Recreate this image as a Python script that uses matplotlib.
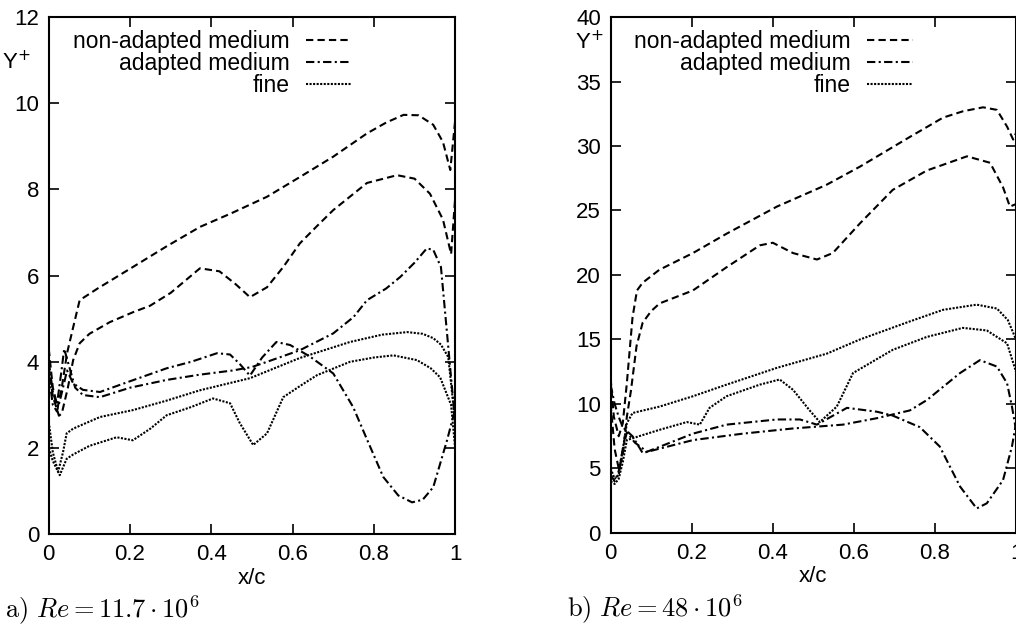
import matplotlib
matplotlib.use("Agg")
import matplotlib.pyplot as plt

plt.rcParams['font.family'] = ['Liberation Sans', 'DejaVu Sans']
plt.rcParams['mathtext.fontset'] = 'cm'

# ---- a) Re = 11.7e6 ----
a_nam1_x = [0, 0.01, 0.022, 0.032, 0.045, 0.06, 0.076, 0.12, 0.207, 0.29, 0.372, 0.45, 0.537, 0.62, 0.70, 0.783, 0.83, 0.873, 0.91, 0.946, 0.97, 0.988, 1.0]
a_nam1_y = [4.3, 3.4, 2.95, 3.4, 4.2, 4.8, 5.43, 5.7, 6.2, 6.68, 7.13, 7.45, 7.83, 8.3, 8.76, 9.3, 9.55, 9.73, 9.72, 9.5, 9.1, 8.45, 9.6]
a_nam2_x = [0, 0.01, 0.025, 0.032, 0.047, 0.06, 0.076, 0.1, 0.15, 0.207, 0.249, 0.30, 0.372, 0.42, 0.46, 0.495, 0.537, 0.577, 0.618, 0.66, 0.70, 0.783, 0.857, 0.90, 0.938, 0.97, 0.99, 1.0]
a_nam2_y = [3.9, 3.2, 2.75, 2.8, 3.4, 4.04, 4.43, 4.65, 4.92, 5.15, 5.3, 5.6, 6.17, 6.1, 5.8, 5.5, 5.73, 6.2, 6.75, 7.15, 7.52, 8.15, 8.33, 8.25, 7.9, 7.3, 6.5, 7.8]

a_am1_x = [0, 0.01, 0.02, 0.03, 0.038, 0.05, 0.065, 0.084, 0.126, 0.2, 0.29, 0.37, 0.453, 0.5, 0.537, 0.618, 0.70, 0.75, 0.783, 0.83, 0.865, 0.90, 0.93, 0.946, 0.965, 0.983, 1.0]
a_am1_y = [4.0, 3.3, 3.0, 3.7, 4.3, 3.9, 3.4, 3.23, 3.18, 3.4, 3.58, 3.7, 3.8, 3.88, 4.0, 4.27, 4.66, 5.04, 5.43, 5.7, 5.97, 6.3, 6.63, 6.6, 6.2, 4.35, 2.6]
a_am2_x = [0, 0.01, 0.02, 0.03, 0.045, 0.06, 0.084, 0.126, 0.2, 0.29, 0.35, 0.414, 0.446, 0.47, 0.495, 0.525, 0.56, 0.594, 0.643, 0.70, 0.749, 0.783, 0.823, 0.86, 0.894, 0.92, 0.946, 0.98, 1.0]
a_am2_y = [3.7, 3.0, 2.85, 3.2, 3.8, 3.5, 3.35, 3.3, 3.55, 3.85, 4.0, 4.2, 4.17, 3.95, 3.68, 4.1, 4.46, 4.39, 4.12, 3.73, 2.95, 2.2, 1.33, 0.9, 0.74, 0.8, 1.09, 2.18, 2.9]

a_fine1_x = [0, 0.01, 0.023, 0.035, 0.044, 0.06, 0.126, 0.207, 0.29, 0.372, 0.495, 0.618, 0.741, 0.82, 0.882, 0.92, 0.946, 0.965, 0.983, 1.0]
a_fine1_y = [2.6, 1.9, 1.45, 1.9, 2.34, 2.45, 2.72, 2.88, 3.1, 3.34, 3.62, 4.09, 4.46, 4.63, 4.69, 4.65, 4.55, 4.4, 4.11, 2.6]
a_fine2_x = [0, 0.01, 0.027, 0.044, 0.06, 0.1, 0.167, 0.207, 0.25, 0.29, 0.35, 0.404, 0.446, 0.47, 0.503, 0.537, 0.577, 0.62, 0.66, 0.741, 0.80, 0.848, 0.906, 0.94, 0.963, 0.99, 1.0]
a_fine2_y = [2.0, 1.7, 1.37, 1.75, 1.85, 2.05, 2.25, 2.18, 2.45, 2.76, 2.95, 3.15, 3.04, 2.58, 2.07, 2.34, 3.18, 3.45, 3.69, 4.0, 4.1, 4.15, 4.04, 3.85, 3.64, 3.0, 2.0]

# ---- b) Re = 48e6 ----
b_nam1_x = [0, 0.008, 0.02, 0.03, 0.04, 0.054, 0.065, 0.079, 0.12, 0.203, 0.286, 0.41, 0.533, 0.615, 0.738, 0.82, 0.87, 0.919, 0.953, 0.978, 0.993, 1.0]
b_nam1_y = [12.0, 9.0, 7.5, 8.5, 11.6, 16.7, 18.8, 19.4, 20.4, 21.7, 23.2, 25.3, 27.0, 28.4, 30.7, 32.2, 32.7, 33.0, 32.8, 31.5, 30.5, 31.0]
b_nam2_x = [0, 0.01, 0.02, 0.03, 0.04, 0.05, 0.064, 0.079, 0.1, 0.121, 0.203, 0.286, 0.368, 0.4, 0.45, 0.509, 0.548, 0.615, 0.696, 0.78, 0.879, 0.936, 0.968, 0.985, 1.0]
b_nam2_y = [10.0, 6.5, 5.0, 6.0, 9.0, 11.0, 14.5, 16.3, 17.2, 17.8, 18.8, 20.6, 22.3, 22.5, 21.7, 21.2, 21.7, 24.0, 26.6, 28.1, 29.2, 28.7, 26.8, 25.3, 25.5]

b_am1_x = [0, 0.01, 0.02, 0.03, 0.054, 0.079, 0.203, 0.326, 0.449, 0.573, 0.657, 0.738, 0.78, 0.862, 0.911, 0.953, 0.978, 0.99, 1.0]
b_am1_y = [11.5, 10.0, 9.0, 8.2, 7.5, 6.2, 7.2, 7.7, 8.1, 8.4, 8.9, 9.5, 10.3, 12.4, 13.4, 12.9, 11.6, 9.8, 8.0]
b_am2_x = [0, 0.01, 0.02, 0.03, 0.04, 0.06, 0.09, 0.203, 0.286, 0.41, 0.467, 0.509, 0.583, 0.657, 0.696, 0.763, 0.812, 0.862, 0.903, 0.928, 0.968, 0.99, 1.0]
b_am2_y = [4.5, 4.0, 4.8, 6.5, 7.8, 7.0, 6.3, 7.7, 8.4, 8.8, 8.8, 8.4, 9.7, 9.4, 9.1, 8.2, 6.7, 3.6, 1.9, 2.3, 4.1, 6.7, 8.5]

b_fine1_x = [0, 0.01, 0.02, 0.03, 0.04, 0.054, 0.121, 0.203, 0.286, 0.41, 0.533, 0.615, 0.738, 0.82, 0.903, 0.953, 0.98, 1.0]
b_fine1_y = [5.0, 4.2, 4.5, 6.5, 8.5, 9.3, 9.8, 10.6, 11.5, 12.8, 13.9, 15.0, 16.4, 17.3, 17.7, 17.4, 16.5, 15.0]
b_fine2_x = [0, 0.01, 0.02, 0.03, 0.04, 0.08, 0.121, 0.188, 0.22, 0.244, 0.286, 0.368, 0.417, 0.45, 0.491, 0.516, 0.558, 0.598, 0.696, 0.78, 0.869, 0.928, 0.978, 1.0]
b_fine2_y = [4.0, 3.8, 4.2, 5.5, 7.2, 7.6, 8.0, 8.6, 8.4, 9.7, 10.6, 11.5, 11.9, 11.1, 9.5, 8.6, 9.8, 12.4, 14.2, 15.2, 15.9, 15.7, 14.7, 12.5]

labels = ['non-adapted medium', 'adapted medium', 'fine']
styles = [(0, (3.5, 2)), (0, (4, 1.6, 1, 1.6)), (0, (1, 0.7))]

xticks = [0, 0.2, 0.4, 0.6, 0.8, 1]
xticklabels = ['0', '0.2', '0.4', '0.6', '0.8', '1']
a_yticks = [0, 2, 4, 6, 8, 10, 12]
b_yticks = [0, 5, 10, 15, 20, 25, 30, 35, 40]

FS = 16


def draw(ax, curves, yticks, caption, yplus_pos):
    for i, (x1, y1, x2, y2) in enumerate(curves):
        ax.plot(x1, y1, color='black', lw=1.5, linestyle=styles[i], label=labels[i])
        ax.plot(x2, y2, color='black', lw=1.5, linestyle=styles[i])
    ax.set_xlim(0, 1)
    ax.set_ylim(yticks[0], yticks[-1])
    ax.set_xticks(xticks)
    ax.set_xticklabels(xticklabels)
    ax.set_yticks(yticks)
    ax.tick_params(direction='in', length=7, width=1.2, top=True, right=True,
                   labelsize=FS, pad=7)
    for s in ax.spines.values():
        s.set_linewidth(1.5)
    ax.set_xlabel('x/c', fontsize=FS, labelpad=2)
    ax.text(yplus_pos[0], yplus_pos[1], r'Y$^{+}$', transform=ax.transAxes,
            fontsize=FS, ha='center', va='center',
            math_fontfamily='dejavusans')
    ax.text(-0.108, -0.148, caption, transform=ax.transAxes, fontsize=19,
            ha='left', va='center')
    ax.legend(loc='upper right', bbox_to_anchor=(0.79, 1.01), frameon=False,
              markerfirst=False, fontsize=16.5, handlelength=2.0,
              handletextpad=0.7, labelspacing=-0.05, borderpad=0.3)


fig = plt.figure(figsize=(10.16, 6.3), dpi=100)
ax1 = fig.add_axes([0.048, 0.152, 0.4, 0.821])
ax2 = fig.add_axes([0.601, 0.154, 0.399, 0.819])

draw(ax1, [(a_nam1_x, a_nam1_y, a_nam2_x, a_nam2_y),
           (a_am1_x, a_am1_y, a_am2_x, a_am2_y),
           (a_fine1_x, a_fine1_y, a_fine2_x, a_fine2_y)],
     a_yticks, r'$\mathrm{a)}\ Re = 11.7\cdot 10^6$', (-0.079, 0.913))
draw(ax2, [(b_nam1_x, b_nam1_y, b_nam2_x, b_nam2_y),
           (b_am1_x, b_am1_y, b_am2_x, b_am2_y),
           (b_fine1_x, b_fine1_y, b_fine2_x, b_fine2_y)],
     b_yticks, r'$\mathrm{b)}\ Re = 48\cdot 10^6$', (-0.052, 0.95))

plt.savefig('out.png', dpi=100)
